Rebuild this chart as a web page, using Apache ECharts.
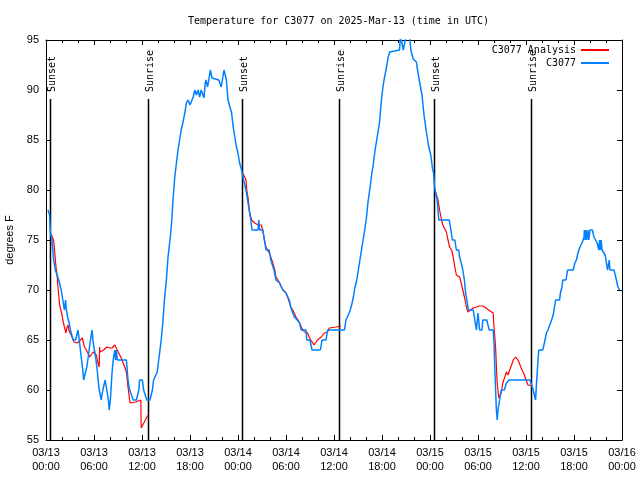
<!DOCTYPE html>
<html>
<head>
<meta charset="utf-8">
<script src="https://cdn.jsdelivr.net/npm/echarts@6/dist/echarts.min.js"></script>
<style>html,body{margin:0;padding:0;background:#fff}#c{width:640px;height:480px}</style>
</head>
<body>
<div id="c"></div>
<script>
// Hours since 2025-03-13 00:00 UTC, temperature (deg F)
const c3077 = [
[0.25,78],[0.45,77.5],[0.55,75.7],[0.75,75],[0.96,73],[1.17,72],[1.4,72],[1.6,71],[1.75,71],[1.9,70],
[2.1,69],[2.3,68],[2.45,69],[2.55,68],[2.7,67.3],[2.9,66.7],[3.05,66],[3.4,65],[3.7,65],[4.0,66],
[4.2,64.7],[4.4,63.3],[4.6,62],[4.7,61],[4.9,61],[5.1,62.3],[5.35,63.7],[5.5,64.7],[5.75,66],[5.9,64.7],
[6.2,63.3],[6.4,62],[6.6,60.3],[6.9,59],[7.1,60],[7.4,61],[7.6,60],[7.8,59],[7.9,58],[8.0,58],
[8.05,59],[8.25,61.7],[8.4,63],[8.6,64],[8.7,63],[8.8,64],[8.9,63],[10.05,63],[10.25,61],[10.4,60.2],
[10.6,59.7],[10.9,59],[11.3,59],[11.6,60],[11.7,61],[12.05,61],[12.2,60],[12.45,60],[12.6,59],[13.0,59],
[13.3,60],[13.45,61],[13.7,61],[13.9,61.8],[14.0,62],[14.2,63.7],[14.4,65],[14.6,66.7],[14.8,69],[15.05,71],
[15.25,73.3],[15.5,75],[15.7,76.7],[15.9,79.3],[16.1,81.3],[16.3,82.7],[16.5,84],[16.7,85],[16.9,86],[17.1,86.7],
[17.35,87.7],[17.55,88.7],[17.75,89],[17.9,89],[18.0,88.5],[18.2,88.3],[18.4,89.3],[18.6,90],[18.8,89.5],[19.0,90],
[19.2,89.3],[19.4,90],[19.6,90],[19.75,89.2],[19.9,90.7],[20.0,91],[20.2,90.3],[20.55,92],[20.75,91.2],[21.0,91],
[21.6,91],[21.9,90.3],[22.25,92],[22.55,91],[22.75,89],[23.0,89],[23.2,87.7],[23.4,86.3],[23.6,85.3],[23.8,84.3],
[24.0,83.7],[24.2,82.7],[24.45,82],[24.7,81],[25.0,80],[25.2,79],[25.4,78],[25.6,77],[25.75,76],[26.5,76],
[26.6,77],[26.7,76],[27.1,76],[27.3,75],[27.5,74],[27.9,74],[28.1,73],[28.5,72],[28.75,71],[29.2,70.7],
[29.6,70],[30.0,69.7],[30.4,69],[30.7,68],[31.05,67.3],[31.4,67],[31.7,66.7],[31.9,66],[32.5,66],[32.6,65],
[33.0,65],[33.25,64],[34.3,64],[34.5,65],[35.0,65],[35.2,66],[37.3,66],[37.5,67],[37.7,67],[37.95,67.8],
[38.2,68.5],[38.4,69.2],[38.6,70.2],[38.8,70.8],[39.0,71.8],[39.2,72.8],[39.4,73.8],[39.6,74.8],[39.8,75.8],[40.05,77.2],
[40.25,78.8],[40.5,80.2],[40.7,81.5],[40.9,82.5],[41.1,83.8],[41.3,84.8],[41.5,85.8],[41.7,86.8],[41.9,88.8],[42.1,90.2],
[42.3,91.2],[42.55,92.2],[42.75,93.2],[42.95,93.8],[43.2,94],[44.2,94],[44.3,95.5],[44.55,95.5],[44.65,94],[44.9,94],
[45.05,95.5],[45.45,95.5],[45.6,94],[45.9,93.1],[46.3,92.8],[46.4,92.2],[46.7,90.8],[47.0,89.5],[47.25,87.5],[47.55,85.8],
[47.8,84.5],[48.1,83.5],[48.3,82.2],[48.45,81.7],[48.55,80.5],[48.7,79.7],[48.9,79],[49.0,78],[49.1,77],[50.4,77],
[50.55,76.3],[50.8,75],[51.1,75],[51.3,74],[51.6,74],[51.7,73.3],[51.9,72.7],[52.1,72],[52.3,71],[52.45,69.7],
[52.6,69],[52.8,68],[53.4,68],[53.6,67],[53.8,66],[54.0,67.7],[54.2,66],[54.5,66],[54.6,67],[55.1,67],
[55.4,66],[55.9,66],[56.0,64.7],[56.1,62.3],[56.2,60],[56.3,58],[56.4,57],[56.5,58],[56.7,59],[56.9,60],
[57.3,60],[57.55,60.7],[57.9,61],[60.5,61],[60.7,60.5],[60.9,60],[61.1,59.3],[61.2,59],[61.3,60.5],[61.4,61.7],
[61.5,63],[61.6,64],[62.1,64],[62.3,64.7],[62.55,65.7],[62.75,66],[63.0,66],[63.2,67],[63.4,67.5],[63.6,68.5],
[63.7,69],[64.2,69],[64.3,69.7],[64.5,70.3],[64.6,71],[65.0,71],[65.2,72],[65.9,72],[66.1,72.7],[66.3,73],
[66.5,73.7],[66.7,74.2],[67.05,74.8],[67.25,75.3],[67.3,76],[67.4,75],[67.5,76],[67.6,75],[67.75,76],[67.85,75],
[68.0,76],[68.3,76],[68.5,75.3],[68.9,74.7],[69.1,74],[69.2,75],[69.3,74],[69.4,75],[69.5,74],[69.6,74],
[69.9,73.5],[70.05,72.7],[70.2,72],[70.4,73],[70.5,72],[71.0,72],[71.3,71],[71.5,70.3],[71.7,70]
];
const analysisNight1 = [
[0.63,75.6],[0.87,75.5],[0.95,75],[1.1,73.7],[1.2,72.7],[1.4,71.3],[1.5,70.3],[1.7,68.5],[1.9,68.5],[2.0,67.5],
[2.1,67],[2.3,66.3],[2.5,65.7],[2.6,66.2],[2.75,66.5],[2.85,66],[3.0,65.8],[3.25,65.3],[3.5,64.8],[3.9,64.7],
[4.0,64.7],[4.55,65.2],[4.8,64.3],[5.05,64],[5.46,63.3],[5.9,63.8],[6.3,63.5],[6.5,62.7],[6.65,62.3],[6.7,64.3],
[6.75,63.8],[6.9,64],[7.2,64],[7.6,64.3],[7.96,64.2],[8.25,64.2],[8.6,64.5],[8.9,64],[9.1,63.8],[9.4,63.2],
[9.6,62.8],[9.8,62.4],[10.05,61.8],[10.25,60.3],[10.5,58.7],[10.6,58.7],[11.2,58.8],[11.85,59],[11.9,56.2],[12.75,57.5]
];
const analysisNight2 = [
[24.6,81.7],[24.8,81.7],[25.0,81],[25.1,80],[25.3,79],[25.4,78],[25.6,77.3],[25.7,77],[26.1,76.7],[26.5,76.5],
[26.9,76.5],[27.1,76],[27.3,75],[27.5,74.3],[27.7,74],[27.9,73.7],[28.1,73.3],[28.35,72.7],[28.6,72],[28.75,71.3],
[29.0,71],[29.2,70.7],[29.4,70.3],[30.0,69.7],[30.2,69.3],[30.4,68.8],[30.6,68.3],[30.85,68],[31.25,67.3],[31.5,67],
[31.7,66.7],[31.9,66.3],[32.3,65.8],[32.7,65.7],[32.9,65.3],[33.1,65],[33.5,64.5],[33.7,64.7],[33.95,65],[34.4,65.3],
[34.8,65.7],[35.2,65.8],[35.4,66.2],[35.6,66.3],[36.25,66.3],[36.9,66.4]
];
const analysisNight3 = [
[48.7,79.8],[48.9,79.7],[49.0,79],[49.2,78],[49.4,77.2],[49.6,76.5],[49.85,76.3],[50.05,75.8],[50.25,75],[50.45,74.3],
[50.7,74],[50.9,73.3],[51.1,72.3],[51.3,71.5],[51.7,71.3],[51.9,70.7],[52.1,70],[52.3,69.3],[52.55,68.3],[52.75,67.8],
[52.95,68],[53.4,68.2],[53.8,68.3],[54.2,68.4],[54.6,68.4],[55.0,68.2],[55.5,67.9],[55.9,67.7],[56.0,66.3],[56.2,64.3],
[56.3,62.3],[56.4,60.7],[56.6,59.2],[56.8,59.2],[56.9,59.7],[57.1,60.7],[57.35,61.3],[57.55,61.8],[57.75,61.5],[57.96,62],
[58.2,62.5],[58.4,63],[58.7,63.3],[59.0,63],[59.25,62.5],[59.4,62.2],[59.6,62],[59.8,61.5],[60.0,61],[60.25,60.5],
[60.4,60.3],[60.75,60.4]
];
const sunTimes = [0.5, 12.75, 24.5, 36.62, 48.5, 60.62];
const sunNames = ['Sunset','Sunrise','Sunset','Sunrise','Sunset','Sunrise'];
const sunLineTop = 89.1;
const xTickLabels = ['03/13\n00:00','03/13\n06:00','03/13\n12:00','03/13\n18:00','03/14\n00:00','03/14\n06:00','03/14\n12:00','03/14\n18:00','03/15\n00:00','03/15\n06:00','03/15\n12:00','03/15\n18:00','03/16\n00:00'];
const yTicks = [55,60,65,70,75,80,85,90,95];

const MONO = '"DejaVu Sans Mono", monospace';
const SANS = '"Liberation Sans", Arial, sans-serif';
const chart = echarts.init(document.getElementById('c'), null, {renderer:'canvas'});
const xBase = {type:'value', min:0, max:72, interval:6,
  axisLine:{show:true, onZero:false, lineStyle:{color:'#000', width:1}},
  axisTick:{show:true, inside:true, length:5, lineStyle:{color:'#000'}},
  minorTick:{show:true, splitNumber:3, length:3, lineStyle:{color:'#000'}},
  splitLine:{show:false}};
const yBase = {type:'value', min:yTicks[0], max:yTicks[yTicks.length-1], interval:5,
  axisLine:{show:true, onZero:false, lineStyle:{color:'#000', width:1}},
  axisTick:{show:true, inside:true, length:5, lineStyle:{color:'#000'}},
  splitLine:{show:false}};
const redStyle = {type:'line', name:'C3077 Analysis', xAxisIndex:0, yAxisIndex:0, symbol:'none', showSymbol:false,
  lineStyle:{color:'#ff0000', width:1.2}, itemStyle:{color:'#ff0000'}, animation:false, clip:true, z:3};
chart.setOption({
  animation:false,
  backgroundColor:'#fff',
  title:{text:'Temperature for C3077 on 2025-Mar-13 (time in UTC)', left:183, top:11,
    textStyle:{fontFamily:MONO, fontSize:10, fontWeight:'normal', color:'#000'}},
  legend:{data:['C3077 Analysis','C3077'], orient:'vertical', right:30, top:44, align:'right', padding:0,
    itemWidth:28, itemHeight:12, itemGap:1,
    itemStyle:{opacity:0},
    textStyle:{fontFamily:MONO, fontSize:10, color:'#000', lineHeight:12}},
  grid:{left:46, right:18, top:40, bottom:40, containLabel:false, outerBoundsMode:'none'},
  xAxis:[
    Object.assign({}, xBase, {position:'bottom',
      axisLabel:{show:true, margin:6, fontFamily:SANS, fontSize:11, color:'#000', lineHeight:14,
        formatter:(v)=>xTickLabels[Math.round(v/6)]}}),
    Object.assign({}, xBase, {position:'top', axisLabel:{show:false}})
  ],
  yAxis:[
    Object.assign({}, yBase, {position:'left', name:'degrees F', nameLocation:'middle', nameGap:30, nameRotate:90,
      nameTextStyle:{fontFamily:SANS, fontSize:11, color:'#000'},
      axisLabel:{show:true, margin:7, fontFamily:SANS, fontSize:11, color:'#000'}}),
    Object.assign({}, yBase, {position:'right', axisLabel:{show:false}})
  ],
  series:[
    {type:'custom', name:'sun', xAxisIndex:0, yAxisIndex:0, z:1, silent:true,
      data: sunTimes.map((t,i)=>[t, sunLineTop, i]),
      renderItem:(params, api)=>{
        const t = api.value(0);
        const p0 = api.coord([t, yTicks[0]]);
        const p1 = api.coord([t, api.value(1)]);
        const x = Math.round(p0[0]) + 0.5;
        return {type:'group', children:[
          {type:'line', shape:{x1:x, y1:p0[1], x2:x, y2:p1[1]}, style:{stroke:'#000', lineWidth:1.5}},
          {type:'text', x:x+1.5, y:p1[1]-7, rotation:Math.PI/2,
            style:{text:sunNames[api.value(2)], fill:'#000', font:'10px ' + MONO, align:'left', verticalAlign:'middle'}}
        ]};
      }},
    Object.assign({}, redStyle, {data:analysisNight1}),
    Object.assign({}, redStyle, {data:analysisNight2}),
    Object.assign({}, redStyle, {data:analysisNight3}),
    {type:'line', name:'C3077', xAxisIndex:0, yAxisIndex:0, symbol:'none', showSymbol:false, data:c3077,
      lineStyle:{color:'#0080ff', width:1.5}, itemStyle:{color:'#0080ff'}, clip:true, z:4}
  ]
});
</script>
</body>
</html>
